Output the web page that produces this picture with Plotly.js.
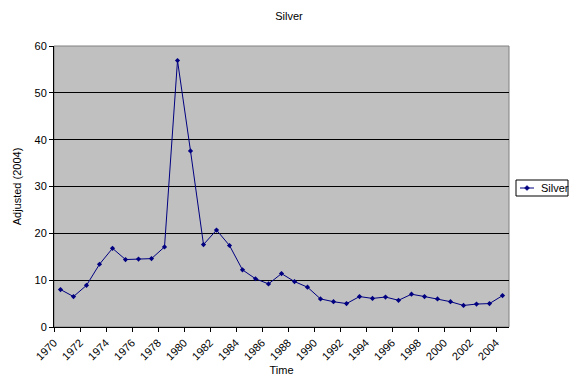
<!DOCTYPE html>
<html>
<head>
<meta charset="utf-8">
<script src="https://cdn.plot.ly/plotly-3.0.1.min.js"></script>
<style>html,body{margin:0;padding:0;background:#fff;}#chart{width:578px;height:380px;}</style>
</head>
<body>
<div id="chart"></div>
<script>
const years = [1970,1971,1972,1973,1974,1975,1976,1977,1978,1979,1980,1981,1982,1983,1984,1985,1986,1987,1988,1989,1990,1991,1992,1993,1994,1995,1996,1997,1998,1999,2000,2001,2002,2003,2004];
const silver = [8.0,6.5,8.9,13.4,16.8,14.4,14.5,14.6,17.1,56.9,37.6,17.6,20.7,17.4,12.2,10.3,9.2,11.4,9.7,8.5,6.0,5.4,5.0,6.5,6.1,6.4,5.7,7.0,6.5,6.0,5.4,4.6,4.9,5.0,6.7];
const tickYears = [1970,1972,1974,1976,1978,1980,1982,1984,1986,1988,1990,1992,1994,1996,1998,2000,2002,2004];
const tickText = tickYears.map(String);
const yTicks = [0,10,20,30,40,50,60];
const seriesName = 'Silver';

// each year's value is plotted in the middle of its year slot
const xs = years.map(y => y + 0.5);

const W = 578, H = 380;
const M = {l: 54, r: 69, t: 46, b: 53};
const PW = W - M.l - M.r, PH = H - M.t - M.b;
const px = x => (x - M.l) / PW;          // pixel -> paper x
const py = y => (H - M.b - y) / PH;      // pixel -> paper y

const fam = '"Liberation Sans", Arial, sans-serif';
const font = {family: fam, size: 11, color: '#000'};
const navy = '#000080';

const trace = {
  x: xs, y: silver, name: seriesName, type: 'scatter', mode: 'lines+markers',
  line: {color: navy, width: 1},
  marker: {symbol: 'diamond', size: 4, color: navy},
  showlegend: false
};

// compact Excel-style legend box
const legY = py(188);
const legendShapes = [
  {type: 'rect', xref: 'paper', yref: 'paper', x0: px(516), x1: px(568), y0: py(196), y1: py(180), line: {color: '#000', width: 1}, fillcolor: '#fff', layer: 'above'},
  {type: 'line', xref: 'paper', yref: 'paper', x0: px(520), x1: px(534), y0: legY, y1: legY, line: {color: navy, width: 1}, layer: 'above'},
  {type: 'path', xref: 'paper', yref: 'paper', xsizemode: 'pixel', ysizemode: 'pixel', xanchor: px(527), yanchor: legY, path: 'M-2.5,0 L0,2.5 L2.5,0 L0,-2.5 Z', fillcolor: navy, line: {color: navy, width: 0.5}, layer: 'above'}
];

const layout = {
  width: W, height: H,
  margin: {l: M.l, r: M.r, t: M.t, b: M.b, autoexpand: false},
  paper_bgcolor: '#fff', plot_bgcolor: '#c0c0c0',
  font: font,
  title: {text: 'Silver', font: font, x: 0.5, xanchor: 'center', y: 1 - 16/H, yanchor: 'middle'},
  showlegend: false,
  xaxis: {
    type: 'linear', range: [1970, 2005], tickmode: 'array', tickvals: tickYears, ticktext: tickText,
    tickangle: -45, ticks: 'outside', ticklen: 4, tickcolor: '#000', showgrid: false, zeroline: false,
    showline: true, linecolor: '#000', linewidth: 1,
    title: {text: 'Time', font: font, standoff: 4}
  },
  yaxis: {
    range: [0, 60], tickmode: 'array', tickvals: yTicks, ticks: 'outside', ticklen: 4, tickcolor: '#000',
    showgrid: true, gridcolor: '#000', gridwidth: 1, zeroline: false,
    showline: true, linecolor: '#000', linewidth: 1,
    title: {text: 'Adjusted (2004)', font: font, standoff: 10}
  },
  shapes: [{type: 'rect', xref: 'paper', yref: 'paper', x0: 0, x1: 1, y0: 0, y1: 1, line: {color: '#808080', width: 1}, layer: 'below'}].concat(legendShapes),
  annotations: [{text: seriesName, xref: 'paper', yref: 'paper', x: px(539), y: legY, xanchor: 'left', yanchor: 'middle', showarrow: false, font: font}]
};

Plotly.newPlot('chart', [trace], layout, {displayModeBar: false, staticPlot: true});
</script>
</body>
</html>
